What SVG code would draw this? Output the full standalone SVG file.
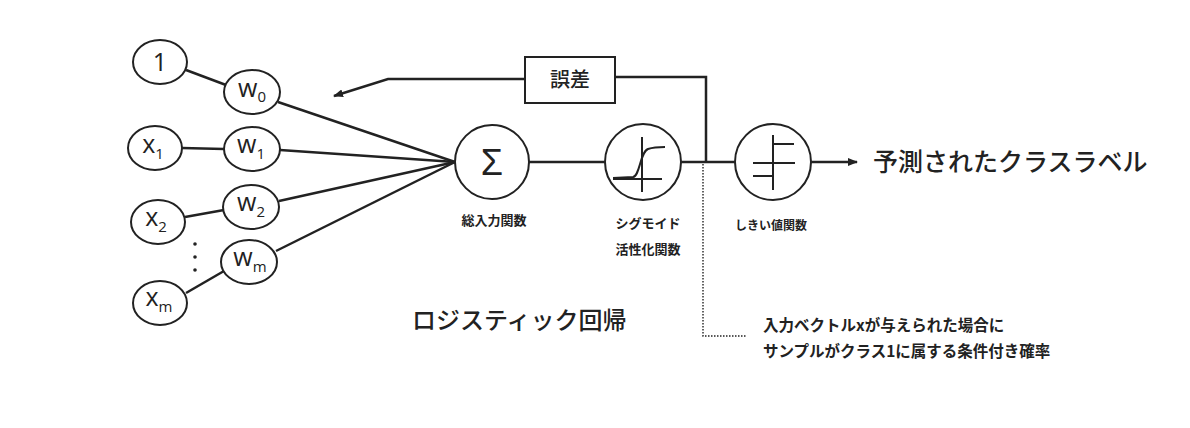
<svg xmlns="http://www.w3.org/2000/svg" width="1190" height="428" viewBox="0 0 1190 428">
<defs>
<style>
.n{fill:#fff;stroke:#222;stroke-width:2}
.c{fill:none;stroke:#222;stroke-width:2.5}
.g{fill:none;stroke:#222;stroke-width:2}
.v{font-family:"Open Sans","Liberation Sans",sans-serif;font-size:25px;fill:#222;text-anchor:middle}
.s{font-size:15px}
.j{font-family:"Noto Sans CJK JP","Noto Sans",sans-serif;fill:#222}
.b{font-weight:bold}
.m{font-weight:500}
</style>
<marker id="ah" markerWidth="10" markerHeight="8" refX="9" refY="4" orient="auto" markerUnits="userSpaceOnUse">
<path d="M0,0 L10,4 L0,8 z" fill="#222"/>
</marker>
</defs>
<rect width="1190" height="428" fill="#fff"/>
<g id="connectors">
<line class="c" x1="186" y1="70" x2="226" y2="85"/>
<line class="c" x1="182" y1="148" x2="224" y2="149"/>
<line class="c" x1="185" y1="217" x2="224" y2="210"/>
<line class="c" x1="186" y1="293" x2="224" y2="271"/>
<line class="c" x1="278" y1="102" x2="455" y2="162"/>
<line class="c" x1="280" y1="150" x2="455" y2="162"/>
<line class="c" x1="279" y1="201" x2="455" y2="162"/>
<line class="c" x1="276" y1="251" x2="455" y2="162"/>
<line class="c" x1="529" y1="162" x2="605" y2="162"/>
<line class="c" x1="681" y1="162" x2="735" y2="162"/>
<polyline class="c" points="706,162 706,77 615,77"/>
<polyline class="c" points="525,79 388,79 334,96" marker-end="url(#ah)"/>
<line class="c" x1="811" y1="162" x2="857" y2="162" marker-end="url(#ah)"/>
<polyline fill="none" stroke="#222" stroke-width="1.4" stroke-dasharray="1.5,1.5" points="703,164 703,336 746,336"/>
</g>
<g id="in1"><ellipse class="n" cx="160" cy="62" rx="27" ry="22"/><text class="v" x="160" y="71">1</text></g>
<g id="x1"><ellipse class="n" cx="155" cy="148" rx="27" ry="22"/><text class="v" x="153" y="153">x<tspan class="s" dy="6">1</tspan></text></g>
<g id="x2"><ellipse class="n" cx="158" cy="222" rx="27" ry="22"/><text class="v" x="156" y="226">x<tspan class="s" dy="6">2</tspan></text></g>
<g id="xm"><ellipse class="n" cx="160" cy="303" rx="27" ry="22"/><text class="v" x="159" y="306">x<tspan class="s" dy="6">m</tspan></text></g>
<g id="dots"><circle cx="195" cy="244" r="1.8" fill="#222"/><circle cx="195" cy="257" r="1.8" fill="#222"/><circle cx="195" cy="270" r="1.8" fill="#222"/></g>
<g id="w0"><ellipse class="n" cx="252" cy="92" rx="28" ry="22"/><text class="v" x="252" y="97">w<tspan class="s" dy="5">0</tspan></text></g>
<g id="w1"><ellipse class="n" cx="252" cy="149" rx="28" ry="22"/><text class="v" x="251" y="153">w<tspan class="s" dy="6">1</tspan></text></g>
<g id="w2"><ellipse class="n" cx="251" cy="207" rx="28" ry="22"/><text class="v" x="251" y="211">w<tspan class="s" dy="6">2</tspan></text></g>
<g id="wm"><ellipse class="n" cx="249" cy="262" rx="28" ry="22"/><text class="v" x="250" y="266">w<tspan class="s" dy="6">m</tspan></text></g>
<g id="sum"><circle class="n" cx="492" cy="162" r="37"/><text x="492" y="175" font-family="'Liberation Sans',sans-serif" font-size="36" fill="#222" text-anchor="middle">Σ</text>
<text class="j b" x="494" y="225" font-size="13" text-anchor="middle">総入力関数</text></g>
<g id="sigmoid"><circle class="n" cx="643" cy="162" r="38"/>
<line class="g" x1="642" y1="137" x2="642" y2="192"/>
<line class="g" x1="613" y1="179" x2="662" y2="179"/>
<path class="g" d="M613,178 L633,177 C640,176 640,152 648,149 C654,147 660,147 665,147"/>
<text class="j b" x="648" y="228" font-size="13" text-anchor="middle">シグモイド</text>
<text class="j b" x="648" y="254" font-size="13" text-anchor="middle">活性化関数</text></g>
<g id="threshold"><circle class="n" cx="773" cy="162" r="38"/>
<line class="g" x1="773" y1="135" x2="773" y2="190"/>
<line class="g" x1="773" y1="144" x2="794" y2="144"/>
<line class="g" x1="753" y1="163" x2="795" y2="163"/>
<line class="g" x1="753" y1="176" x2="773" y2="176"/>
<text class="j b" x="771" y="230" font-size="12" text-anchor="middle">しきい値関数</text></g>
<g id="error"><rect class="n" x="525" y="57" width="90" height="46"/><text class="j m" x="570" y="87" font-size="20" text-anchor="middle">誤差</text></g>
<g id="output"><text class="j m" x="873" y="171" font-size="25">予測されたクラスラベル</text></g>
<g id="title"><text class="j m" x="412" y="329" font-size="24">ロジスティック回帰</text></g>
<g id="note"><text class="j b" x="763" y="331" font-size="15.5">入力ベクトルxが与えられた場合に</text>
<text class="j b" x="763" y="357" font-size="15.5">サンプルがクラス1に属する条件付き確率</text></g>
</svg>
